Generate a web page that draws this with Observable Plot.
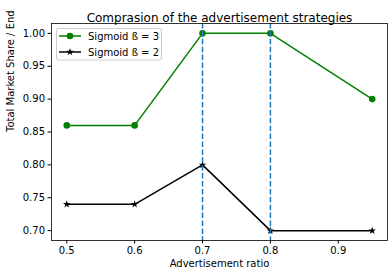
<!DOCTYPE html>
<html><head><meta charset="utf-8">
<script src="https://cdn.jsdelivr.net/npm/d3@7"></script>
<script src="https://cdn.jsdelivr.net/npm/@observablehq/plot@0.6"></script>
<style>body{margin:0;background:#fff} svg{display:block}</style>
</head><body><div id="chart"></div>
<script>
const ratios = [0.5, 0.6, 0.7, 0.8, 0.95];
const sigmoid3 = [0.86, 0.86, 1.00, 1.00, 0.90];
const sigmoid2 = [0.74, 0.74, 0.80, 0.70, 0.70];
const seriesNames = ["Sigmoid ß = 3", "Sigmoid ß = 2"];
const seriesColors = ["green", "black"];
const seriesSymbols = ["circle", "star"];
const seriesMarkerR = [3.3, 2.4];
const vlines = [0.7, 0.8];
const xTicks = [0.5, 0.6, 0.7, 0.8, 0.9];
const yTicks = [0.70, 0.75, 0.80, 0.85, 0.90, 0.95, 1.00];
const titleText = "Comprasion of the advertisement strategies";
const xLabel = "Advertisement ratio";
const yLabel = "Total Market Share / End";

const data = [];
ratios.forEach((r, i) => data.push({x: r, y: sigmoid3[i], series: seriesNames[0]}));
ratios.forEach((r, i) => data.push({x: r, y: sigmoid2[i], series: seriesNames[1]}));

const FONT = "DejaVu Sans, sans-serif";
const chart = Plot.plot({
  width: 392, height: 278,
  marginLeft: 51, marginRight: 5, marginTop: 23, marginBottom: 38,
  style: {fontFamily: FONT, fontSize: "10px", background: "white", color: "black"},
  x: {domain: [0.4775, 0.9725]},
  y: {domain: [0.685, 1.015]},
  color: {domain: seriesNames, range: seriesColors},
  symbol: {domain: seriesNames, range: seriesSymbols},
  marks: [
    Plot.axisX({ticks: xTicks, tickFormat: d3.format(".1f"), tickSize: 3.5, tickPadding: 3, label: null, fontSize: 10}),
    Plot.axisY({ticks: yTicks, tickFormat: d3.format(".2f"), tickSize: 3.5, tickPadding: 3, label: null, fontSize: 10}),
    Plot.line(data, {x: "x", y: "y", z: "series", stroke: "series", strokeWidth: 1.5}),
    ...seriesNames.map((name, i) =>
      Plot.dot(data.filter(d => d.series === name), {x: "x", y: "y", fill: "series", symbol: "series", r: seriesMarkerR[i], stroke: "none"})),
    Plot.ruleX(vlines, {stroke: "#1f77b4", strokeWidth: 1.5, strokeDasharray: "5.5,2.4"}),
    Plot.frame({stroke: "black", strokeWidth: 0.8}),
    Plot.text([titleText], {frameAnchor: "top", dy: -10, fontSize: 12, text: d => d}),
    Plot.text([xLabel], {frameAnchor: "bottom", dy: 26, fontSize: 10, text: d => d}),
    Plot.text([yLabel], {frameAnchor: "left", dx: -41, rotate: -90, fontSize: 10, text: d => d})
  ]
});
document.getElementById("chart").appendChild(chart);

// legend
const svg = d3.select(chart);
const lg = svg.append("g").attr("font-family", FONT).attr("font-size", 10).attr("text-anchor", "start");
lg.append("rect").attr("x", 56.5).attr("y", 28.5).attr("width", 105).attr("height", 31.5)
  .attr("rx", 2).attr("fill", "white").attr("fill-opacity", 0.8).attr("stroke", "#ccc").attr("stroke-width", 1);
seriesNames.forEach((name, i) => {
  const y = 36 + i * 16;
  lg.append("line").attr("x1", 59).attr("x2", 81).attr("y1", y).attr("y2", y)
    .attr("stroke", seriesColors[i]).attr("stroke-width", 1.5);
  const sym = seriesSymbols[i] === "circle" ? d3.symbolCircle : d3.symbolStar;
  const r = seriesMarkerR[i];
  lg.append("path").attr("d", d3.symbol(sym, Math.PI * r * r)())
    .attr("transform", `translate(70,${y})`).attr("fill", seriesColors[i]);
  lg.append("text").attr("x", 88).attr("y", y).attr("dy", "0.35em").attr("fill", "black").text(name);
});
</script>
</body></html>
